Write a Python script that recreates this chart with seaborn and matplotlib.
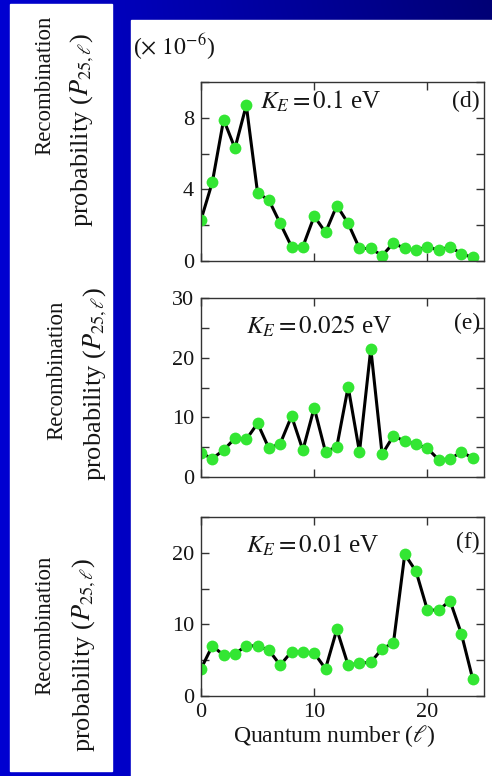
import numpy as np
import pandas as pd
import matplotlib
matplotlib.use("Agg")
import matplotlib.pyplot as plt
from matplotlib.patches import Rectangle
import seaborn as sns

# quantum number l = 0..24
l_values = list(range(25))

# recombination probability (x 1e-6)
p_d = [2.3, 4.4, 7.9, 6.3, 8.7, 3.8, 3.4, 2.1, 0.8, 0.8, 2.5, 1.6, 3.1, 2.1, 0.7,
       0.7, 0.3, 1.0, 0.7, 0.6, 0.8, 0.6, 0.8, 0.4, 0.2]
p_e = [4.0, 3.1, 4.5, 6.5, 6.3, 9.0, 4.8, 5.6, 10.2, 4.5, 11.6, 4.2, 5.1, 15.1, 4.2,
       21.5, 3.8, 6.9, 6.0, 5.5, 4.8, 2.9, 3.0, 4.2, 3.2]
p_f = [3.8, 7.0, 5.7, 5.9, 7.0, 7.0, 6.4, 4.3, 6.2, 6.1, 6.0, 3.8, 9.3, 4.3, 4.6,
       4.7, 6.6, 7.4, 19.8, 17.4, 12.0, 12.0, 13.3, 8.7, 2.4]

panels = [
    ("d", p_d, r"$K_E = 0.1$ eV", 10, 2, [0, 4, 8]),
    ("e", p_e, r"$K_E = 0.025$ eV", 30, 5, [0, 10, 20, 30]),
    ("f", p_f, r"$K_E = 0.01$ eV", 25, 5, [0, 10, 20]),
]

sns.set_style("ticks")
plt.rcParams["font.family"] = ["Liberation Serif", "DejaVu Serif"]
plt.rcParams["mathtext.fontset"] = "stix"

W, H = 492, 776
fig = plt.figure(figsize=(W / 100, H / 100), dpi=100)

# blue gradient backdrop
bg = fig.add_axes([0, 0, 1, 1], zorder=-10)
gx = np.linspace(0, 1, 200)
gy = np.linspace(0, 1, 200)
GX, GY = np.meshgrid(gx, gy)
shade = 0.82 - 0.36 * GX * (1 - 0.6 * GY)
rgb = np.dstack([np.zeros_like(shade), np.zeros_like(shade), shade])
bg.imshow(rgb, extent=[0, 1, 0, 1], aspect="auto", origin="upper")
bg.axis("off")

# white boards
fig.patches.append(Rectangle((10 / W, 1 - 771 / H), 102 / W, 767 / H,
                             transform=fig.transFigure, color="white", zorder=-5))
fig.patches.append(Rectangle((131 / W, 0), (W - 131) / W, 1 - 20 / H,
                             transform=fig.transFigure, color="white", zorder=-5))

green = "#33e633"
ink = "#151515"
tops = [82, 298, 517]
ax_h = 179
axes = []
for (tag, vals, label, ymax, ystep, ylabels), top in zip(panels, tops):
    ax = fig.add_axes([201 / W, 1 - (top + ax_h) / H, 283 / W, ax_h / H])
    df = pd.DataFrame({"l": l_values, "p": vals})
    sns.lineplot(data=df, x="l", y="p", ax=ax, color="black", linewidth=2.2,
                 marker="o", markersize=8.5, markerfacecolor=green,
                 markeredgecolor=green, markeredgewidth=0)
    ax.set_xlim(0, 25)
    ax.set_ylim(0, ymax)
    ax.set_xticks([0, 10, 20])
    ticks = np.arange(0, ymax + 0.01, ystep)
    ax.set_yticks(ticks)
    ax.set_yticklabels([f"{t:g}" if t in ylabels else "" for t in ticks])
    ax.tick_params(direction="in", length=6, width=1, top=True, right=True,
                   labelsize=16, pad=5, colors="#333333", labelcolor=ink)
    for s in ax.spines.values():
        s.set_visible(True)
        s.set_color("#333333")
        s.set_linewidth(1.0)
    ax.set_xlabel("")
    ax.set_ylabel("")
    ax.set_facecolor("white")
    ax.text(0.21 if tag == "d" else 0.16, 0.89 if tag == "d" else 0.84, label,
            transform=ax.transAxes, fontsize=18, va="center", ha="left",
            color=ink)
    ax.text(0.985, 0.89 if tag == "d" else 0.86, f"({tag})", transform=ax.transAxes,
            fontsize=17, va="center", ha="right", color=ink)
    axes.append(ax)

for ax in axes[:-1]:
    ax.set_xticklabels([])
axes[-1].set_xlabel(r"Quantum number ($\ell$)", fontsize=17, labelpad=1,
                    color=ink, x=0.47)

fig.text(133 / W, 1 - 47 / H, r"($\times\ 10^{-6}$)", fontsize=17,
         va="center", ha="left", color=ink)

# rotated y labels on the left board
ylab = [((45, 85), (82, 130)), ((57, 370), (95, 384)), ((45, 625), (84, 655))]
for (p1, p2) in ylab:
    fig.text(p1[0] / W, 1 - p1[1] / H, "Recombination", rotation=90,
             fontsize=16.5, ha="center", va="center", color=ink)
    fig.text(p2[0] / W, 1 - p2[1] / H, r"probability ($P_{25,\ell}$)", rotation=90,
             fontsize=19, ha="center", va="center", color=ink)

fig.savefig("out.png", dpi=100)
